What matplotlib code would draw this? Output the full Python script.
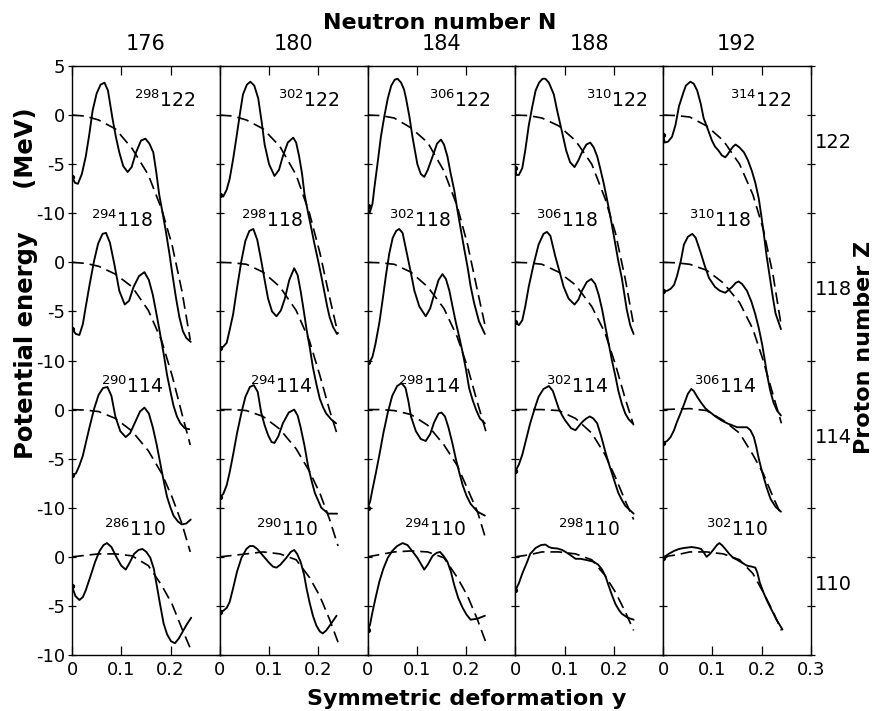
import matplotlib
matplotlib.use("Agg")
import matplotlib.pyplot as plt

# ── data ─────────────────────────────────────────────────────────────────
N_VALUES = [176, 180, 184, 188, 192]
Z_VALUES = [122, 118, 114, 110]
ROW_SHIFT = 15.0          # MeV between stacked rows of curves

Y_TICK_LABELS = ["5", "0", "-5", "-10", "0", "-5", "-10",
                 "0", "-5", "-10", "0", "-5", "-10"]

# dashed (liquid-drop) curves, common deformation grid
DASH_X = [0.000, 0.027, 0.054, 0.088, 0.122, 0.155, 0.182, 0.203, 0.223, 0.240]
dash_176 = [[0, -0.1, -0.5, -1.4, -3.4, -6.1, -9.6, -13.2, -17.9, -22.9],
            [0, -0.1, -0.4, -1.2, -2.5, -4.9, -8.0, -11.5, -15.4, -18.6],
            [0, -0.05, -0.2, -0.9, -2.2, -4.2, -6.5, -8.9, -11.6, -14.5],
            [0, 0.15, 0.3, 0.3, 0.1, -0.9, -2.9, -4.8, -7.3, -9.3]]
dash_180 = [[0, -0.1, -0.5, -1.4, -3.2, -6.1, -10.0, -14.0, -18.6, -22.3],
            [0, -0.05, -0.2, -1.0, -2.5, -4.9, -8.0, -11.5, -15.1, -17.8],
            [0, 0, -0.1, -0.7, -2.0, -4.0, -6.3, -8.5, -11.2, -13.9],
            [0, 0.15, 0.3, 0.5, 0.3, -0.3, -2.1, -4.0, -6.4, -8.7]]
dash_184 = [[0, -0.05, -0.3, -1.3, -2.8, -5.7, -9.3, -13.2, -17.9, -21.8],
            [0, -0.05, -0.2, -1.0, -2.5, -4.7, -7.6, -10.7, -14.3, -17.2],
            [0, 0, -0.1, -0.5, -1.6, -3.6, -5.7, -8.1, -10.4, -13.2],
            [0, 0.25, 0.5, 0.6, 0.5, -0.1, -2.1, -4.0, -6.4, -8.7]]
dash_188 = [[0, -0.05, -0.3, -1.1, -2.6, -5.0, -8.5, -12.0, -16.7, -21.4],
            [0, -0.05, -0.2, -1.0, -2.3, -4.5, -7.2, -10.4, -13.9, -16.6],
            [0, 0, 0.0, -0.1, -0.9, -2.4, -4.6, -6.9, -9.3, -11.2],
            [0, 0.2, 0.5, 0.5, 0.3, -0.3, -1.9, -3.6, -5.6, -7.5]]
dash_192 = [[0, -0.05, -0.2, -1.1, -2.6, -5.0, -8.1, -11.6, -16.3, -21.6],
            [0, -0.05, -0.2, -0.8, -2.1, -4.1, -6.8, -10.0, -13.5, -16.4],
            [0, 0.05, 0.1, -0.1, -1.1, -2.4, -4.6, -6.5, -8.9, -10.8],
            [0, 0.2, 0.5, 0.5, 0.3, -0.3, -1.7, -3.6, -5.6, -7.5]]

# solid (total potential energy) curves: (deformation, MeV) pairs
solid_176 = [
    [(0.000, -6.3), (0.006, -6.9), (0.012, -7.0), (0.020, -6.0), (0.028, -4.2),
     (0.035, -2.0), (0.042, 0.5), (0.050, 2.2), (0.058, 3.1), (0.066, 3.3),
     (0.073, 2.5), (0.082, -0.3), (0.089, -2.2), (0.096, -3.8), (0.104, -5.2),
     (0.113, -5.8), (0.121, -5.3), (0.130, -3.8), (0.140, -2.6), (0.149, -2.4),
     (0.157, -2.9), (0.165, -3.8), (0.171, -5.8), (0.177, -8.1), (0.184, -10.0),
     (0.191, -12.0), (0.198, -14.2), (0.204, -16.3), (0.211, -18.6), (0.218, -20.6),
     (0.225, -22.0), (0.232, -22.7), (0.241, -23.1)],
    [(0.000, -6.8), (0.008, -7.3), (0.015, -7.4), (0.022, -6.3), (0.028, -4.5),
     (0.036, -2.2), (0.045, 0.2), (0.053, 1.9), (0.062, 2.9), (0.069, 3.0),
     (0.077, 2.0), (0.086, -0.2), (0.096, -2.9), (0.107, -4.3), (0.116, -3.9),
     (0.125, -2.5), (0.136, -1.4), (0.147, -1.0), (0.156, -1.8), (0.164, -3.3),
     (0.172, -5.4), (0.180, -7.6), (0.187, -9.6), (0.193, -11.5), (0.200, -13.2),
     (0.206, -14.6), (0.213, -15.7), (0.220, -16.4), (0.229, -16.9), (0.238, -17.0)],
    [(0.000, -6.7), (0.008, -6.5), (0.015, -5.7), (0.022, -4.7), (0.028, -3.4),
     (0.036, -1.7), (0.045, 0.1), (0.054, 1.5), (0.063, 2.2), (0.072, 2.3),
     (0.080, 1.4), (0.088, -0.7), (0.098, -2.2), (0.109, -2.8), (0.118, -2.4),
     (0.128, -1.3), (0.138, -0.2), (0.147, 0.2), (0.156, -0.4), (0.164, -1.8),
     (0.172, -3.6), (0.180, -5.7), (0.187, -7.5), (0.193, -8.9), (0.200, -10.0),
     (0.206, -10.8), (0.215, -11.4), (0.223, -11.7), (0.232, -11.6), (0.241, -11.2)],
    [(0.000, -3.0), (0.007, -4.0), (0.015, -4.4), (0.022, -4.1), (0.028, -3.4),
     (0.038, -1.9), (0.047, -0.5), (0.056, 0.6), (0.064, 1.2), (0.071, 1.4),
     (0.080, 1.0), (0.091, -0.1), (0.100, -0.9), (0.109, -1.3), (0.117, -0.6),
     (0.126, 0.3), (0.135, 0.7), (0.143, 0.8), (0.151, 0.5), (0.159, -0.1),
     (0.166, -1.2), (0.172, -2.9), (0.179, -4.9), (0.186, -6.8), (0.193, -7.9),
     (0.201, -8.6), (0.209, -8.8), (0.217, -8.3), (0.226, -7.5), (0.234, -6.8),
     (0.242, -6.2)],
]
solid_180 = [
    [(0.000, -8.1), (0.007, -8.3), (0.014, -7.6), (0.020, -6.5), (0.027, -4.5),
     (0.034, -2.2), (0.041, 0.2), (0.047, 2.1), (0.055, 3.1), (0.062, 3.4),
     (0.070, 3.0), (0.078, 1.7), (0.085, -0.7), (0.091, -3.0), (0.100, -5.0),
     (0.111, -6.2), (0.120, -5.6), (0.128, -4.2), (0.138, -2.8), (0.149, -2.3),
     (0.155, -2.8), (0.161, -4.2), (0.167, -6.0), (0.172, -8.1), (0.179, -9.9),
     (0.186, -11.6), (0.192, -13.1), (0.199, -14.7), (0.206, -16.4), (0.213, -18.2),
     (0.218, -19.5), (0.223, -20.6), (0.230, -21.6), (0.238, -22.3)],
    [(0.000, -8.7), (0.007, -8.6), (0.014, -8.2), (0.020, -6.9), (0.027, -5.3),
     (0.035, -2.6), (0.044, 0.2), (0.052, 2.2), (0.060, 3.2), (0.068, 3.4),
     (0.076, 2.3), (0.084, 0.2), (0.091, -1.8), (0.098, -3.7), (0.106, -5.0),
     (0.115, -5.5), (0.124, -4.9), (0.132, -3.7), (0.141, -1.8), (0.151, -0.6),
     (0.158, -1.3), (0.164, -2.9), (0.170, -4.8), (0.176, -6.8), (0.183, -8.8),
     (0.189, -10.7), (0.196, -12.4), (0.203, -13.9), (0.210, -14.8), (0.216, -15.4),
     (0.226, -16.0), (0.236, -16.4)],
    [(0.000, -8.9), (0.007, -8.6), (0.014, -7.7), (0.020, -6.4), (0.027, -4.6),
     (0.035, -2.4), (0.044, -0.3), (0.052, 1.3), (0.061, 2.3), (0.069, 2.5),
     (0.077, 1.8), (0.084, -0.3), (0.091, -1.6), (0.098, -2.6), (0.105, -3.3),
     (0.111, -3.4), (0.119, -2.7), (0.128, -1.4), (0.140, -0.3), (0.151, 0.0),
     (0.158, -0.6), (0.164, -1.8), (0.172, -3.7), (0.179, -5.7), (0.186, -7.2),
     (0.193, -8.5), (0.206, -10.0), (0.220, -10.6), (0.238, -10.6)],
    [(0.000, -5.6), (0.007, -5.5), (0.014, -5.2), (0.020, -4.6), (0.027, -3.2),
     (0.035, -1.5), (0.044, -0.1), (0.054, 0.8), (0.061, 1.1), (0.068, 1.1),
     (0.076, 0.8), (0.088, 0.1), (0.100, -0.6), (0.108, -1.0), (0.115, -1.1),
     (0.123, -0.8), (0.135, -0.1), (0.144, 0.5), (0.151, 0.7), (0.157, 0.3),
     (0.164, -0.5), (0.171, -1.8), (0.176, -3.2), (0.182, -4.6), (0.189, -6.0),
     (0.196, -7.0), (0.203, -7.6), (0.209, -7.8), (0.216, -7.5), (0.226, -6.8),
     (0.237, -6.0)],
]
solid_184 = [
    [(0.000, -9.3), (0.004, -10.0), (0.010, -9.0), (0.014, -7.3), (0.020, -5.0),
     (0.027, -2.2), (0.034, -0.1), (0.041, 1.7), (0.048, 3.0), (0.055, 3.6),
     (0.061, 3.7), (0.068, 3.3), (0.074, 2.6), (0.078, 1.7), (0.085, -0.2),
     (0.091, -2.2), (0.101, -5.0), (0.108, -6.0), (0.115, -6.3), (0.122, -5.6),
     (0.132, -4.2), (0.141, -2.9), (0.149, -2.5), (0.155, -3.0), (0.162, -4.2),
     (0.168, -5.8), (0.176, -7.7), (0.182, -9.6), (0.189, -11.6), (0.196, -13.6),
     (0.203, -15.5), (0.209, -17.4), (0.216, -19.1), (0.226, -21.0), (0.238, -22.3)],
    [(0.000, -10.2), (0.005, -10.1), (0.010, -9.6), (0.016, -8.3), (0.024, -6.1),
     (0.030, -4.0), (0.037, -1.4), (0.044, 0.9), (0.051, 2.5), (0.058, 3.2),
     (0.064, 3.4), (0.071, 3.0), (0.081, 0.6), (0.088, -1.1), (0.095, -2.9),
     (0.105, -4.5), (0.118, -5.5), (0.127, -4.7), (0.135, -3.3), (0.144, -1.8),
     (0.152, -1.2), (0.159, -1.7), (0.166, -2.9), (0.172, -4.4), (0.179, -6.1),
     (0.186, -7.6), (0.193, -9.2), (0.200, -11.0), (0.206, -12.8), (0.213, -14.0),
     (0.220, -15.0), (0.228, -15.9), (0.238, -16.4)],
    [(0.000, -10.0), (0.005, -9.4), (0.010, -8.1), (0.017, -6.4), (0.024, -4.6),
     (0.032, -2.4), (0.041, -0.3), (0.050, 1.4), (0.060, 2.4), (0.069, 2.7),
     (0.077, 2.2), (0.083, 0.8), (0.088, -0.7), (0.098, -2.2), (0.108, -3.0),
     (0.118, -3.2), (0.127, -2.5), (0.135, -1.3), (0.144, -0.4), (0.150, -0.3),
     (0.157, -0.7), (0.164, -1.8), (0.172, -3.4), (0.179, -5.0), (0.186, -6.4),
     (0.193, -7.7), (0.201, -8.8), (0.209, -9.6), (0.223, -10.4), (0.238, -10.8)],
    [(0.000, -7.5), (0.005, -6.9), (0.010, -5.6), (0.017, -4.0), (0.024, -2.5),
     (0.032, -1.2), (0.041, -0.1), (0.050, 0.6), (0.060, 1.1), (0.071, 1.4),
     (0.081, 1.2), (0.095, 0.3), (0.101, -0.1), (0.108, -0.7), (0.115, -1.3),
     (0.122, -0.8), (0.132, 0.1), (0.140, 0.4), (0.147, 0.5), (0.154, 0.1),
     (0.162, -0.5), (0.169, -1.5), (0.176, -2.9), (0.184, -4.2), (0.193, -5.2),
     (0.201, -5.9), (0.209, -6.4), (0.223, -6.3), (0.238, -6.0)],
]
solid_188 = [
    [(0.000, -5.4), (0.002, -6.1), (0.007, -6.1), (0.014, -5.4), (0.020, -3.6),
     (0.027, -1.1), (0.034, 0.8), (0.041, 2.5), (0.048, 3.3), (0.055, 3.7),
     (0.061, 3.7), (0.068, 3.3), (0.078, 2.1), (0.085, 0.4), (0.095, -1.8),
     (0.103, -3.6), (0.111, -4.8), (0.120, -5.3), (0.128, -4.6), (0.135, -3.8),
     (0.144, -3.0), (0.152, -2.8), (0.159, -3.3), (0.166, -4.2), (0.172, -5.4),
     (0.179, -6.9), (0.186, -8.6), (0.193, -10.4), (0.203, -13.2), (0.209, -14.9),
     (0.216, -16.6), (0.226, -19.8), (0.233, -21.4), (0.240, -22.3)],
    [(0.000, -6.1), (0.007, -6.4), (0.014, -5.9), (0.020, -4.5), (0.027, -2.5),
     (0.037, -0.2), (0.047, 1.8), (0.057, 2.9), (0.064, 3.1), (0.071, 2.7),
     (0.081, 0.6), (0.091, -1.2), (0.098, -2.5), (0.108, -3.7), (0.120, -4.3),
     (0.128, -3.8), (0.135, -2.9), (0.145, -2.0), (0.154, -1.7), (0.162, -2.2),
     (0.169, -3.3), (0.176, -4.8), (0.182, -6.4), (0.189, -8.2), (0.196, -10.0),
     (0.203, -11.6), (0.209, -13.1), (0.216, -14.4), (0.223, -15.4), (0.230, -16.0),
     (0.238, -16.4)],
    [(0.000, -6.3), (0.007, -5.6), (0.014, -4.6), (0.020, -3.4), (0.030, -1.4),
     (0.041, 0.4), (0.047, 1.3), (0.057, 2.1), (0.068, 2.4), (0.076, 1.9),
     (0.082, 1.0), (0.088, 0.1), (0.095, -0.6), (0.101, -1.1), (0.113, -1.9),
     (0.122, -2.1), (0.130, -1.6), (0.137, -1.2), (0.144, -0.9), (0.151, -0.7),
     (0.158, -0.9), (0.166, -1.4), (0.174, -2.7), (0.182, -4.2), (0.189, -5.4),
     (0.196, -6.5), (0.203, -7.6), (0.209, -8.5), (0.216, -9.2), (0.223, -9.8),
     (0.240, -10.6)],
    [(0.000, -3.4), (0.007, -2.7), (0.014, -1.7), (0.024, -0.5), (0.030, 0.3),
     (0.041, 0.9), (0.052, 1.2), (0.061, 1.25), (0.068, 1.0), (0.074, 0.9),
     (0.085, 0.85), (0.095, 0.7), (0.105, 0.4), (0.111, 0.2), (0.122, -0.2),
     (0.132, -0.2), (0.142, -0.3), (0.151, -0.4), (0.159, -0.5), (0.168, -0.8),
     (0.176, -1.3), (0.183, -2.0), (0.189, -2.9), (0.196, -3.9), (0.203, -4.8),
     (0.210, -5.4), (0.216, -5.8), (0.228, -6.2), (0.240, -6.4)],
]
solid_192 = [
    [(0.000, -2.0), (0.003, -2.8), (0.010, -2.7), (0.018, -2.2), (0.025, -1.0),
     (0.032, 0.9), (0.041, 2.3), (0.046, 3.0), (0.055, 3.4), (0.062, 3.2),
     (0.069, 2.5), (0.076, 1.2), (0.082, -0.3), (0.091, -1.5), (0.099, -2.6),
     (0.105, -3.2), (0.112, -3.6), (0.119, -4.1), (0.126, -4.3), (0.131, -4.0),
     (0.136, -3.6), (0.142, -3.2), (0.147, -3.0), (0.155, -3.3), (0.164, -3.8),
     (0.172, -4.6), (0.180, -5.7), (0.187, -6.9), (0.194, -8.5), (0.199, -10.2),
     (0.204, -12.0), (0.210, -14.4), (0.217, -16.7), (0.223, -18.7), (0.228, -20.2),
     (0.239, -21.8)],
    [(0.000, -2.9), (0.008, -2.9), (0.015, -2.7), (0.022, -2.3), (0.028, -1.4),
     (0.036, 0.2), (0.042, 1.8), (0.050, 2.6), (0.059, 2.9), (0.066, 2.5),
     (0.076, 1.0), (0.084, -0.3), (0.093, -1.6), (0.105, -2.5), (0.115, -2.9),
     (0.126, -3.1), (0.133, -2.8), (0.140, -2.5), (0.147, -2.1), (0.153, -1.95),
     (0.160, -2.2), (0.170, -2.9), (0.179, -4.0), (0.187, -5.3), (0.194, -6.7),
     (0.201, -8.4), (0.206, -9.9), (0.211, -11.5), (0.217, -13.0), (0.224, -14.3),
     (0.231, -15.1), (0.239, -15.6)],
    [(0.000, -3.4), (0.008, -3.2), (0.015, -2.8), (0.022, -2.1), (0.028, -1.25),
     (0.035, -0.4), (0.042, 0.5), (0.050, 1.6), (0.057, 2.1), (0.062, 1.9),
     (0.069, 1.3), (0.077, 0.7), (0.086, 0.1), (0.096, -0.3), (0.106, -0.7),
     (0.118, -1.1), (0.130, -1.4), (0.140, -1.6), (0.150, -1.8), (0.160, -1.8),
     (0.170, -1.8), (0.177, -2.1), (0.184, -2.8), (0.189, -3.8), (0.194, -5.0),
     (0.199, -6.0), (0.204, -6.9), (0.211, -8.1), (0.218, -9.1), (0.228, -9.9),
     (0.239, -10.4)],
    [(0.000, -0.1), (0.011, 0.3), (0.022, 0.6), (0.032, 0.8), (0.042, 0.9),
     (0.058, 1.0), (0.070, 0.9), (0.077, 0.8), (0.083, 0.4), (0.088, 0.0),
     (0.095, 0.3), (0.103, 0.8), (0.109, 1.2), (0.114, 1.4), (0.119, 1.2),
     (0.126, 0.8), (0.134, 0.3), (0.142, -0.1), (0.150, -0.3), (0.160, -0.6),
     (0.170, -0.9), (0.180, -1.0), (0.187, -1.1), (0.191, -1.6), (0.196, -2.6),
     (0.204, -3.7), (0.212, -4.6), (0.220, -5.4), (0.230, -6.4), (0.242, -7.4)],
]

SOLID = [solid_176, solid_180, solid_184, solid_188, solid_192]
DASHED = [dash_176, dash_180, dash_184, dash_188, dash_192]

# label anchor positions (deformation within panel), per row / column
LABEL_X = [[0.189, 0.181, 0.188, 0.205, 0.198],
           [0.102, 0.105, 0.106, 0.105, 0.115],
           [0.122, 0.124, 0.124, 0.125, 0.126],
           [0.129, 0.136, 0.136, 0.149, 0.151]]
LABEL_DY = [1.5, 4.3, 2.4, 2.8]

W, H = 876, 711
fig, axes = plt.subplots(1, 5, figsize=(W / 100, H / 100), dpi=100, sharey=True)
fig.subplots_adjust(left=72 / W, right=811 / W, bottom=1 - 655 / H, top=1 - 66 / H,
                    wspace=0)

LW = 1.35
for i, (ax, N) in enumerate(zip(axes, N_VALUES)):
    for r, Z in enumerate(Z_VALUES):
        shift = -ROW_SHIFT * r
        xs = [p[0] for p in SOLID[i][r]]
        es = [p[1] + shift for p in SOLID[i][r]]
        ax.plot(xs, es, color="black", lw=LW, solid_capstyle="round",
                solid_joinstyle="round")
        ax.plot(xs[:1], es[:1], "o", color="black", ms=2.8)
        ax.plot(DASH_X, [e + shift for e in DASHED[i][r]], color="black",
                lw=LW * 0.9, dashes=(7, 3.5))
        ax.text(LABEL_X[r][i], shift + LABEL_DY[r], f"$^{{{N + Z}}}$" + f"{Z}",
                ha="center", va="center", fontsize=13.5)

    ax.set_xlim(0, 0.3)
    ax.set_ylim(-55, 5)
    ax.set_xticks([0, 0.1, 0.2, 0.3] if i == 4 else [0, 0.1, 0.2])
    ax.set_xticklabels(["0", "0.1", "0.2", "0.3"] if i == 4 else ["0", "0.1", "0.2"])
    ax.tick_params(axis="x", which="both", direction="in", length=6.5, width=0.9,
                   top=True, labelsize=13, pad=4)
    ax.tick_params(axis="y", direction="inout", length=6, width=0.9,
                   right=(i == 4), labelsize=13, pad=2)
    for s in ax.spines.values():
        s.set_linewidth(1.0)
    ax.text(0.5, 1.021, str(N), transform=ax.transAxes, ha="center", va="bottom",
            fontsize=15)

axes[0].set_yticks([5 - 5 * k for k in range(len(Y_TICK_LABELS))])
axes[0].set_yticklabels(Y_TICK_LABELS)

# right-hand proton numbers
for r, Z in enumerate(Z_VALUES):
    axes[-1].text(0.345, -ROW_SHIFT * r - 2.8, str(Z), ha="center", va="center",
                  fontsize=14, clip_on=False)

fig.text(440 / W, 1 - 23 / H, "Neutron number N", ha="center", va="center",
         fontsize=16, fontweight="bold")
fig.text(467 / W, 1 - 699 / H, "Symmetric deformation y", ha="center", va="center",
         fontsize=16, fontweight="bold")
fig.text(26 / W, 1 - 283 / H, "Potential energy     (MeV)", ha="center", va="center",
         rotation=90, fontsize=17.5, fontweight="bold")
fig.text(864 / W, 1 - 347 / H, "Proton number Z", ha="center", va="center",
         rotation=90, fontsize=16, fontweight="bold")

fig.savefig("out.png", dpi=100)
